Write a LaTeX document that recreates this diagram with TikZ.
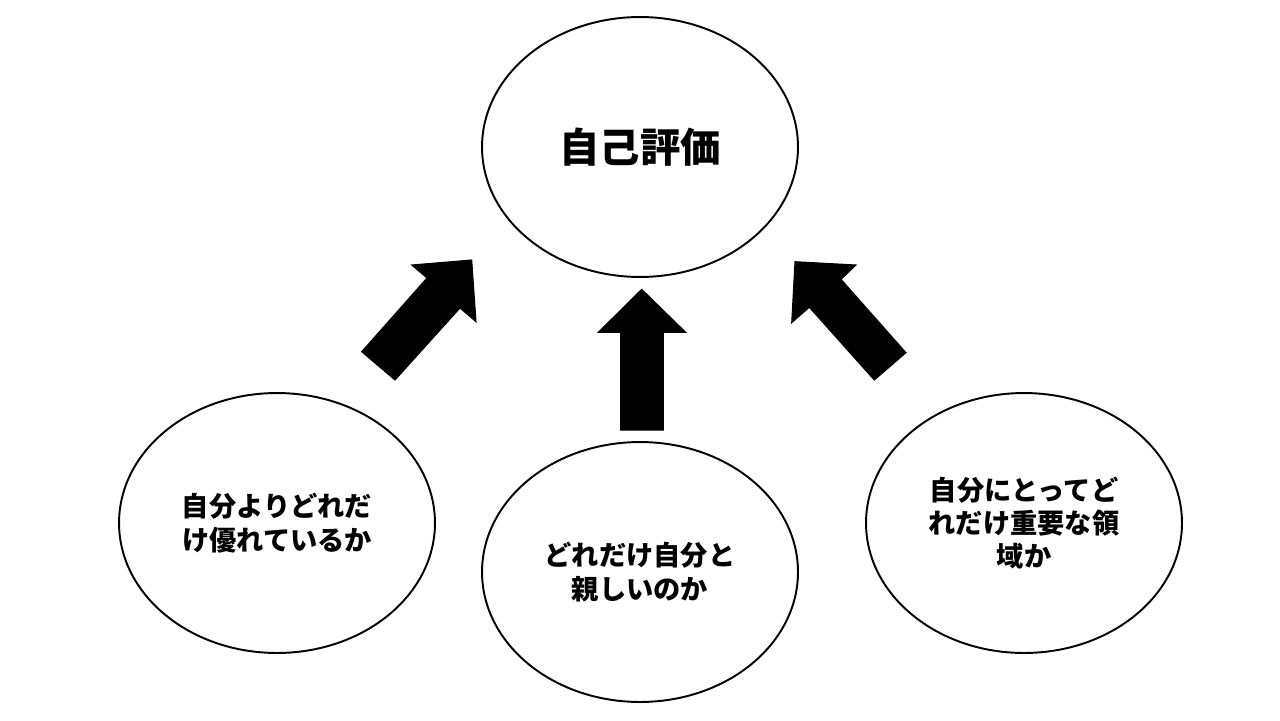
\documentclass[tikz,border=0pt]{standalone}
\usepackage{fontspec}
\newfontfamily\jpfont{Noto Sans CJK JP}
\usepackage{tikz}
\usetikzlibrary{shapes.geometric, positioning}

\tikzset{
    oval/.style={ellipse, draw=black, line width=1.1pt, fill=white,
        minimum width=6.32cm, minimum height=5.2cm, align=center,
        font=\jpfont\bfseries\fontsize{15.5}{19}\selectfont},
    blockarrow/.style={fill=black, draw=black, line width=0.6pt, line join=miter}
}

\begin{document}
\begin{tikzpicture}[x=0.02cm, y=-0.02cm]

    \useasboundingbox (0,0) rectangle (1280,720);

    % =================================================================
    % Các hình elip
    % =================================================================
    \node[oval, font=\jpfont\bfseries\fontsize{23}{28}\selectfont] (eval) at (640,147) {自己評価};

    \node[oval] (superior) at (277,523) {自分よりどれだ\\け優れているか};
    \node[oval] (close) at (640,572) {どれだけ自分と\\親しいのか};
    \node[oval] (important) at (1024,523) {自分にとってど\\れだけ重要な領\\域か};

    % =================================================================
    % Các mũi tên khối
    % =================================================================
    % mũi tên trái
    \fill[blockarrow] (471.7,260) -- (476,321.7) -- (460,308) -- (395,380)
        -- (361.7,351.7) -- (427,278) -- (411.7,265) -- cycle;

    % mũi tên giữa
    \fill[blockarrow] (641.7,289.3) -- (685.7,332.3) -- (663.3,332.3) -- (663.3,430)
        -- (620.7,430) -- (620.7,332.3) -- (598.3,332.3) -- cycle;

    % mũi tên phải
    \fill[blockarrow] (795,261.7) -- (856,265) -- (841,279.3) -- (906,352.7)
        -- (874.3,380) -- (809.3,307.3) -- (791.7,322.7) -- cycle;

\end{tikzpicture}
\end{document}
